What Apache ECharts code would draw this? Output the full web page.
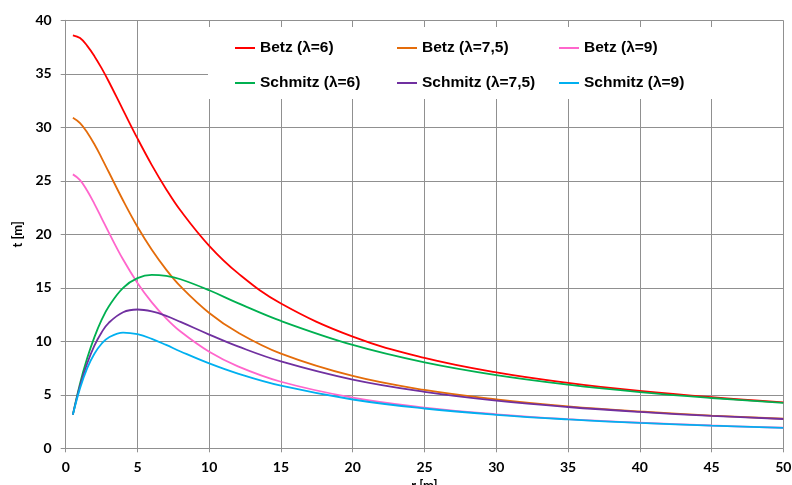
<!DOCTYPE html>
<html>
<head>
<meta charset="utf-8">
<script src="https://cdn.jsdelivr.net/npm/echarts@6/dist/echarts.min.js"></script>
<style>html,body{margin:0;padding:0;background:#fff;overflow:hidden}#c{width:792px;height:485px}</style>
</head>
<body>
<div id="c"></div>
<script>
var r       = [0.5, 1, 1.5, 2, 2.5, 3, 4, 5, 6, 7, 8, 10, 12, 15, 20, 25, 30, 35, 40, 45, 50];
var betz6   = [38.6, 38.34, 37.61, 36.65, 35.53, 34.28, 31.61, 28.96, 26.47, 24.22, 22.22, 18.92, 16.37, 13.53, 10.43, 8.45, 7.09, 6.11, 5.36, 4.77, 4.30];
var betz75  = [30.9, 30.40, 29.52, 28.41, 27.15, 25.82, 23.16, 20.70, 18.55, 16.70, 15.13, 12.65, 10.82, 8.85, 6.76, 5.45, 4.57, 3.92, 3.44, 3.06, 2.76];
var betz9   = [25.6, 25.07, 24.07, 22.85, 21.52, 20.18, 17.64, 15.46, 13.64, 12.14, 10.91, 9.02, 7.66, 6.22, 4.73, 3.81, 3.18, 2.73, 2.39, 2.13, 1.92];
var schm6   = [3.15, 6.07, 8.43, 10.39, 12.00, 13.26, 15.0, 15.90, 16.21, 16.11, 15.80, 14.77, 13.57, 11.90, 9.66, 8.03, 6.84, 5.95, 5.25, 4.70, 4.24];
var schm75  = [3.15, 5.84, 7.95, 9.60, 10.83, 11.73, 12.72, 12.97, 12.79, 12.37, 11.81, 10.63, 9.52, 8.12, 6.42, 5.28, 4.46, 3.86, 3.40, 3.03, 2.74];
var schm9   = [3.15, 5.62, 7.50, 8.84, 9.77, 10.36, 10.81, 10.66, 10.23, 9.66, 9.05, 7.93, 6.98, 5.85, 4.56, 3.72, 3.13, 2.70, 2.37, 2.11, 1.91];
var names   = ['Betz (λ=6)', 'Betz (λ=7,5)', 'Betz (λ=9)', 'Schmitz (λ=6)', 'Schmitz (λ=7,5)', 'Schmitz (λ=9)'];
var colors  = ['#FF0000', '#E46C0A', '#FF66CC', '#00B050', '#7030A0', '#00B0F0'];
var values  = [betz6, betz75, betz9, schm6, schm75, schm9];

function pairs(ys){ return r.map(function(x,i){ return [x, ys[i]]; }); }

var series = values.map(function(v, i){
  return {
    name: names[i], type: 'line', data: pairs(v), symbol: 'none', smooth: 0.4,
    lineStyle: { color: colors[i], width: 1.8 }, itemStyle: { color: colors[i] }, z: 3
  };
});

var labelFont = { fontFamily: 'Lato', fontWeight: 'bold', fontSize: 14, color: '#000' };
var legendText = { fontFamily: 'Liberation Sans', fontWeight: 'bold', fontSize: 15.5, color: '#000' };
var legendLeft = [235, 397, 559];
var legendTop = [40, 75];

var legends = names.map(function(n, i){
  return {
    data: [n], left: legendLeft[i % 3], top: legendTop[Math.floor(i / 3)],
    itemWidth: 20, itemHeight: 14, padding: 0, textStyle: legendText,
    icon: 'path://M0,6 L20,6 L20,8 L0,8 Z', selectedMode: false
  };
});

var chart = echarts.init(document.getElementById('c'), null, { renderer: 'canvas' });
chart.setOption({
  animation: false,
  backgroundColor: '#fff',
  grid: { left: 65.7, right: 8.7, top: 20.3, bottom: 36.7, containLabel: false, outerBoundsMode: 'none' },
  xAxis: {
    type: 'value', min: 0, max: 50, interval: 5,
    name: 'r [m]', nameLocation: 'middle', nameGap: 26,
    nameTextStyle: { fontFamily: 'Lato', fontWeight: 'bold', fontSize: 13, color: '#000' },
    axisLine: { show: true, lineStyle: { color: '#909090', width: 1 } },
    axisTick: { show: true, length: 4, lineStyle: { color: '#909090' } },
    axisLabel: Object.assign({ margin: 12 }, labelFont),
    splitLine: { show: true, lineStyle: { color: '#909090', width: 1 } }
  },
  yAxis: {
    type: 'value', min: 0, max: 40, interval: 5,
    name: 't [m]', nameLocation: 'middle', nameGap: 41, nameRotate: 90,
    nameTextStyle: { fontFamily: 'Lato', fontWeight: 'bold', fontSize: 13, color: '#000' },
    axisLine: { show: true, lineStyle: { color: '#909090', width: 1 } },
    axisTick: { show: true, length: 5, lineStyle: { color: '#909090' } },
    axisLabel: Object.assign({ margin: 14 }, labelFont),
    splitLine: { show: true, lineStyle: { color: '#909090', width: 1 } }
  },
  graphic: [{
    type: 'rect', z: 1, silent: true,
    shape: { x: 208, y: 27, width: 575, height: 72 },
    style: { fill: '#fff' }
  }],
  legend: legends,
  series: series
});
</script>
</body>
</html>
